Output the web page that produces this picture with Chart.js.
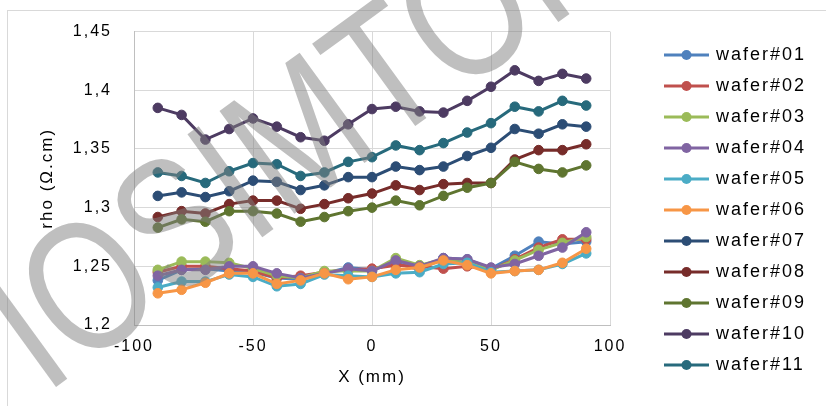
<!DOCTYPE html>
<html>
<head>
<meta charset="utf-8">
<script src="https://cdn.jsdelivr.net/npm/chart.js@4/dist/chart.umd.min.js"></script>
<style>
  html, body { margin: 0; padding: 0; background: #fff; }
  #wrap { position: relative; width: 826px; height: 406px; overflow: hidden; }
  canvas { display: block; }
</style>
</head>
<body>
<div id="wrap"><canvas id="c" width="826" height="406"></canvas></div>
<script>
// X positions (mm)
const xPositions = [-90, -80, -70, -60, -50, -40, -30, -20, -10, 0, 10, 20, 30, 40, 50, 60, 70, 80, 90];

const seriesNames = ['wafer#01','wafer#02','wafer#03','wafer#04','wafer#05','wafer#06',
                     'wafer#07','wafer#08','wafer#09','wafer#10','wafer#11'];

const wafer01 = [1.238,1.247,1.248,1.246,1.245,1.240,1.239,1.244,1.249,1.247,1.253,1.247,1.257,1.256,1.248,1.259,1.271,1.269,1.271];
const wafer02 = [1.245,1.250,1.250,1.248,1.246,1.240,1.242,1.245,1.247,1.248,1.251,1.250,1.248,1.250,1.247,1.256,1.266,1.273,1.273];
const wafer03 = [1.247,1.254,1.254,1.253,1.248,1.242,1.240,1.246,1.246,1.246,1.257,1.251,1.256,1.253,1.247,1.255,1.264,1.270,1.275];
const wafer04 = [1.242,1.247,1.247,1.250,1.250,1.244,1.240,1.244,1.248,1.246,1.255,1.250,1.257,1.256,1.249,1.252,1.259,1.266,1.279];
const wafer05 = [1.232,1.237,1.237,1.243,1.241,1.233,1.235,1.243,1.242,1.241,1.244,1.245,1.252,1.253,1.245,1.246,1.247,1.252,1.261];
const wafer06 = [1.227,1.230,1.236,1.244,1.244,1.235,1.238,1.244,1.239,1.241,1.247,1.249,1.255,1.251,1.244,1.246,1.247,1.253,1.265];
const wafer07 = [1.310,1.313,1.309,1.314,1.323,1.322,1.315,1.319,1.326,1.326,1.335,1.332,1.335,1.344,1.351,1.367,1.363,1.371,1.369];
const wafer08 = [1.292,1.297,1.295,1.303,1.306,1.306,1.299,1.303,1.308,1.312,1.319,1.315,1.320,1.321,1.321,1.341,1.349,1.349,1.354];
const wafer09 = [1.283,1.290,1.288,1.297,1.297,1.295,1.288,1.292,1.297,1.300,1.306,1.302,1.310,1.317,1.321,1.339,1.333,1.330,1.336];
const wafer10 = [1.385,1.379,1.358,1.367,1.376,1.369,1.360,1.357,1.371,1.384,1.386,1.382,1.381,1.391,1.403,1.417,1.408,1.414,1.410];
const wafer11 = [1.330,1.327,1.321,1.331,1.338,1.337,1.327,1.330,1.339,1.343,1.353,1.349,1.355,1.364,1.372,1.386,1.382,1.391,1.387];

const seriesValues = [wafer01, wafer02, wafer03, wafer04, wafer05, wafer06, wafer07, wafer08, wafer09, wafer10, wafer11];
const seriesColors = ['#4F81BD','#C0504D','#9BBB59','#8064A2','#4BACC6','#F79646',
                      '#2C4D75','#772C2A','#5F7530','#4D3B62','#276A7C'];

const yTickValues = [1.2, 1.25, 1.3, 1.35, 1.4, 1.45];
const xTickValues = [-100, -50, 0, 50, 100];
const watermarkText = 'IOSIMTOP';

function legendIcon(color) {
  const cv = document.createElement('canvas');
  cv.width = 45; cv.height = 12;
  const g = cv.getContext('2d');
  g.strokeStyle = color; g.lineWidth = 3;
  g.beginPath(); g.moveTo(0, 6); g.lineTo(45, 6); g.stroke();
  g.fillStyle = color;
  g.beginPath(); g.arc(22.5, 6, 5, 0, Math.PI * 2); g.fill();
  return cv;
}

const datasets = seriesNames.map((name, i) => ({
  label: name,
  data: xPositions.map((x, k) => ({ x: x, y: seriesValues[i][k] })),
  borderColor: seriesColors[i],
  backgroundColor: seriesColors[i],
  pointBackgroundColor: seriesColors[i],
  pointBorderColor: seriesColors[i],
  borderWidth: 3,
  pointRadius: 4.8,
  pointBorderWidth: 1,
  tension: 0,
  order: seriesNames.length - i
}));

const spacing = '2px';
const setSpacing = (chart) => { try { chart.ctx.letterSpacing = spacing; } catch (e) {} };

const decorPlugin = {
  id: 'decor',
  beforeUpdate: setSpacing,
  beforeLayout(chart) {
    setSpacing(chart);
    const lg = chart.legend;
    if (lg && !lg._patched) {
      const orig = lg.fit.bind(lg);
      lg.fit = function () { orig(); this.width = 216; };
      lg._patched = true;
    }
  },
  afterLayout(chart) {
    const lg = chart.legend;
    if (lg) {
      lg.left = 653; lg.right = 826 + 43;
      lg.top = 33; lg.bottom = 406;
    }
  },
  beforeDraw(chart) {
    setSpacing(chart);
    const ctx = chart.ctx;
    ctx.save();
    ctx.fillStyle = '#ffffff';
    ctx.fillRect(0, 0, chart.width, chart.height);
    ctx.strokeStyle = '#d9d9d9';
    ctx.lineWidth = 1;
    ctx.strokeRect(7.5, 10.5, 900, 500);
    ctx.restore();
  },
  afterDraw(chart) {
    const ctx = chart.ctx;
    ctx.save();
    ctx.letterSpacing = '0px';
    ctx.translate(45, 395);
    ctx.rotate(-36 * Math.PI / 180);
    ctx.scale(0.8, 1);
    ctx.font = '185px "Liberation Sans"';
    ctx.fillStyle = 'rgba(128,128,128,0.5)';
    ctx.textBaseline = 'alphabetic';
    ctx.fillText(watermarkText, 0, 0);
    ctx.restore();
  }
};

const fmt = (v) => String(Math.round(v * 100) / 100).replace('.', ',');

new Chart(document.getElementById('c'), {
  type: 'line',
  data: { datasets: datasets },
  options: {
    responsive: false,
    animation: false,
    devicePixelRatio: 1,
    layout: { padding: { top: 30, left: 0, right: 0, bottom: 0 } },
    plugins: {
      tooltip: { enabled: false },
      legend: {
        position: 'right',
        align: 'start',
        labels: {
          usePointStyle: true,
          pointStyleWidth: 41,
          boxHeight: 16,
          padding: 13,
          color: '#000',
          font: { family: '"Liberation Sans", Arial, sans-serif', size: 18 },
          generateLabels(chart) {
            return chart.data.datasets.map((ds, i) => ({
              text: ds.label,
              pointStyle: legendIcon(ds.borderColor),
              fillStyle: ds.borderColor,
              strokeStyle: ds.borderColor,
              lineWidth: 0,
              hidden: false,
              datasetIndex: i
            }));
          }
        }
      }
    },
    scales: {
      x: {
        type: 'linear',
        min: -100, max: 100,
        afterBuildTicks(s) { s.ticks = xTickValues.map(v => ({ value: v })); },
        ticks: {
          padding: 12,
          color: '#000',
          font: { family: '"Liberation Sans", Arial, sans-serif', size: 16 },
          callback: (v) => String(v)
        },
        grid: { color: '#d9d9d9', drawTicks: false, lineWidth: 1 },
        border: { color: '#bfbfbf', width: 1 },
        title: {
          display: true, text: 'X (mm)', color: '#000',
          font: { family: '"Liberation Sans", Arial, sans-serif', size: 17 },
          padding: { top: 0, bottom: 18 }
        },
        afterFit(s) { s.height = 81; }
      },
      y: {
        type: 'linear',
        min: 1.2, max: 1.45,
        afterBuildTicks(s) { s.ticks = yTickValues.map(v => ({ value: v })); },
        ticks: {
          padding: 22,
          color: '#000',
          font: { family: '"Liberation Sans", Arial, sans-serif', size: 16 },
          callback: (v) => fmt(v)
        },
        grid: { color: '#d9d9d9', drawTicks: false, lineWidth: 1 },
        border: { color: '#bfbfbf', width: 1 },
        title: {
          display: true, text: 'rho (Ω.cm)', color: '#000',
          font: { family: '"Liberation Sans", Arial, sans-serif', size: 17 },
          padding: { top: 37, bottom: 0 }
        },
        afterFit(s) { s.width = 134; }
      }
    }
  },
  plugins: [decorPlugin]
});
</script>
</body>
</html>
